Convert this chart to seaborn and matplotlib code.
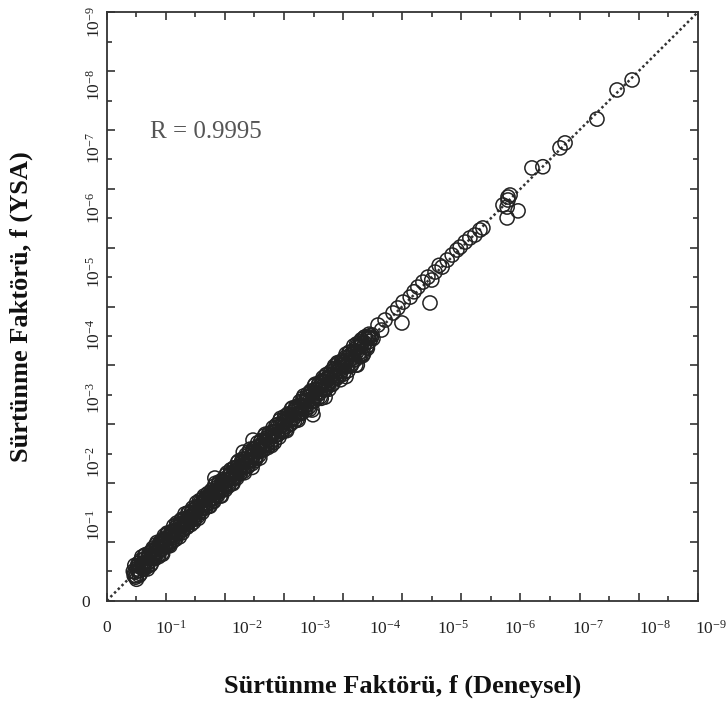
import numpy as np
import pandas as pd
import matplotlib
matplotlib.use("Agg")
import matplotlib.pyplot as plt
import seaborn as sns

# Positions are in axis units (0-20 along each axis, one unit per tick mark)
dense_x = [
    0.90, 0.93, 0.95, 0.99, 1.02, 1.05, 1.08, 1.12, 1.15, 1.17, 1.21, 1.24, 1.27, 1.30, 1.34, 1.37,
    1.40, 1.43, 1.46, 1.50, 1.53, 1.56, 1.59, 1.63, 1.66, 1.69, 1.72, 1.75, 1.79, 1.82, 1.85, 1.88,
    1.92, 1.95, 1.98, 2.01, 2.05, 2.08, 2.11, 2.14, 2.18, 2.21, 2.24, 2.28, 2.31, 2.34, 2.37, 2.41,
    2.44, 2.47, 2.51, 2.54, 2.57, 2.61, 2.64, 2.67, 2.70, 2.74, 2.77, 2.81, 2.84, 2.87, 2.90, 2.94,
    2.97, 3.01, 3.04, 3.07, 3.11, 3.14, 3.17, 3.21, 3.24, 3.28, 3.31, 3.34, 3.38, 3.41, 3.45, 3.48,
    3.51, 3.55, 3.58, 3.62, 3.65, 3.68, 3.72, 3.75, 3.79, 3.82, 3.86, 3.89, 3.92, 3.96, 3.99, 4.03,
    4.06, 4.10, 4.13, 4.17, 4.20, 4.24, 4.27, 4.31, 4.34, 4.38, 4.41, 4.45, 4.48, 4.52, 4.55, 4.59,
    4.62, 4.66, 4.69, 4.73, 4.77, 4.80, 4.84, 4.87, 4.91, 4.94, 4.98, 5.02, 5.05, 5.09, 5.12, 5.16,
    5.20, 5.23, 5.27, 5.31, 5.34, 5.38, 5.42, 5.45, 5.49, 5.53, 5.56, 5.60, 5.64, 5.67, 5.71, 5.75,
    5.78, 5.82, 5.86, 5.90, 5.93, 5.97, 6.01, 6.05, 6.08, 6.12, 6.16, 6.20, 6.23, 6.27, 6.31, 6.35,
    6.38, 6.42, 6.46, 6.50, 6.54, 6.57, 6.61, 6.65, 6.69, 6.73, 6.77, 6.80, 6.84, 6.88, 6.92, 6.96,
    7.00, 7.04, 7.07, 7.11, 7.15, 7.19, 7.23, 7.27, 7.31, 7.35, 7.39, 7.43, 7.46, 7.50, 7.54, 7.58,
    7.62, 7.66, 7.70, 7.74, 7.78, 7.82, 7.86, 7.90, 7.94, 7.98, 8.02, 8.06, 8.10, 8.14, 8.18, 8.22,
    8.26, 8.30, 8.34, 8.38, 8.42, 8.46, 8.50, 8.54, 8.58, 8.62, 8.66, 8.70, 8.74, 8.78, 8.82, 8.86,
    8.89, 8.92, 8.95, 8.98, 9.01,
]
dense_y = [
    1.00, 0.85, 0.97, 0.85, 1.08, 1.02, 1.20, 1.02, 1.15, 1.25, 1.09, 1.28, 1.21, 1.43, 1.33, 1.28,
    1.45, 1.32, 1.55, 1.46, 1.66, 1.49, 1.60, 1.50, 1.73, 1.67, 1.83, 1.66, 1.82, 1.77, 1.95, 1.76,
    1.94, 2.07, 1.88, 2.07, 2.01, 2.17, 1.97, 2.17, 2.11, 2.32, 2.23, 2.16, 2.39, 2.29, 2.51, 2.33,
    2.51, 2.44, 2.62, 2.41, 2.61, 2.55, 2.77, 2.58, 2.71, 2.83, 2.66, 2.86, 2.82, 2.99, 2.75, 2.97,
    2.90, 3.11, 3.03, 3.21, 2.99, 3.19, 3.12, 3.29, 3.14, 3.30, 3.43, 3.26, 3.44, 3.28, 3.54, 3.45,
    3.62, 3.46, 3.62, 3.48, 3.72, 3.66, 3.85, 3.69, 3.80, 3.71, 3.95, 3.85, 4.07, 3.86, 4.02, 3.96,
    4.12, 3.98, 4.23, 4.14, 4.32, 4.16, 4.29, 4.16, 4.42, 4.33, 4.54, 4.44, 4.38, 4.59, 4.49, 4.70,
    4.53, 4.70, 4.56, 4.82, 4.75, 4.94, 4.77, 4.90, 4.80, 5.04, 4.94, 5.08, 4.91, 5.21, 5.11, 5.08,
    5.28, 5.13, 5.28, 5.44, 5.28, 5.43, 5.30, 5.55, 5.46, 5.60, 5.41, 5.62, 5.75, 5.59, 5.75, 5.64,
    5.91, 5.78, 5.93, 5.77, 5.95, 6.07, 5.92, 6.10, 5.92, 6.21, 6.14, 6.32, 6.16, 6.30, 6.19, 6.43,
    6.33, 6.53, 6.36, 6.54, 6.40, 6.65, 6.60, 6.78, 6.61, 6.79, 6.65, 6.82, 6.94, 6.82, 7.06, 6.78,
    7.07, 6.95, 7.19, 7.07, 7.18, 7.04, 7.32, 7.20, 7.45, 7.33, 7.44, 7.23, 7.57, 7.40, 7.55, 7.66,
    7.50, 7.70, 7.64, 7.87, 7.56, 7.88, 7.83, 8.00, 7.80, 8.00, 8.14, 7.97, 8.15, 7.97, 8.27, 8.18,
    8.37, 8.23, 8.37, 8.20, 8.50, 8.45, 8.63, 8.43, 8.63, 8.38, 8.76, 8.65, 8.76, 8.90, 8.67, 8.92,
    8.81, 9.01, 8.93, 9.03, 8.91,
]

# Edges of the dense band, further from the 1:1 line
edge_x = [
    0.95, 1.01, 1.07, 1.14, 1.19, 1.26, 1.32, 1.38, 1.44, 1.51,
    1.57, 1.63, 1.70, 1.76, 1.82, 1.89, 1.95, 2.02, 2.08, 2.14,
    2.21, 2.27, 2.33, 2.40, 2.46, 2.53, 2.59, 2.65, 2.72, 2.78,
    2.85, 2.91, 2.97, 3.04, 3.10, 3.17, 3.23, 3.30, 3.36, 3.42,
    3.49, 3.55, 3.62, 3.68, 3.75, 3.81, 3.88, 3.94, 4.01, 4.07,
    4.14, 4.20, 4.27, 4.33, 4.40, 4.46, 4.53, 4.59, 4.66, 4.72,
    4.79, 4.85, 4.92, 4.98, 5.05, 5.11, 5.18, 5.24, 5.31, 5.37,
    5.44, 5.50, 5.57, 5.63, 5.70, 5.76, 5.83, 5.89, 5.96, 6.02,
    6.09, 6.15, 6.22, 6.28, 6.35, 6.41, 6.48, 6.54, 6.61, 6.67,
    6.74, 6.80, 6.87, 6.93, 7.00, 7.06, 7.13, 7.19, 7.26, 7.32,
    7.39, 7.45, 7.52, 7.58, 7.65, 7.71, 7.78, 7.84, 7.91, 7.97,
    8.04, 8.10, 8.17, 8.23, 8.30, 8.36, 8.43, 8.49, 8.56, 8.62,
    8.69, 8.75, 8.82, 8.88,
]
edge_y = [
    1.20, 0.73, 1.27, 0.92, 1.49, 1.07, 1.56, 1.08, 1.62, 1.26,
    1.79, 1.43, 1.98, 1.50, 2.01, 1.58, 2.21, 1.84, 2.29, 1.87,
    2.00, 2.54, 2.09, 2.59, 2.17, 2.76, 2.41, 2.95, 2.50, 2.98,
    2.59, 3.15, 2.77, 3.33, 2.80, 3.35, 3.00, 3.56, 3.17, 3.64,
    3.21, 3.75, 3.37, 3.99, 3.57, 4.04, 3.56, 4.13, 3.77, 4.34,
    3.94, 4.45, 3.98, 4.51, 4.17, 4.74, 4.34, 4.81, 4.35, 4.96,
    4.57, 5.15, 4.66, 5.17, 4.84, 5.37, 4.85, 5.45, 5.13, 5.66,
    5.20, 5.69, 5.27, 5.88, 5.50, 5.98, 5.56, 6.20, 5.77, 6.26,
    5.78, 6.35, 6.00, 6.55, 6.10, 6.59, 6.14, 6.77, 6.41, 6.96,
    6.47, 7.02, 6.51, 7.12, 6.77, 7.36, 6.88, 7.40, 6.88, 7.58,
    7.17, 7.69, 7.19, 7.78, 7.37, 7.98, 7.57, 8.07, 7.51, 8.16,
    7.78, 8.38, 7.82, 8.45, 8.06, 8.66, 8.01, 8.69, 8.29, 8.87,
    8.39, 8.97, 8.58, 9.06,
]

# Intermediate cases between the core and the edges of the band
mid_x = [
    0.98, 1.04, 1.10, 1.17, 1.23, 1.29, 1.35, 1.41, 1.48, 1.54,
    1.60, 1.67, 1.73, 1.79, 1.86, 1.92, 1.99, 2.05, 2.11, 2.18,
    2.24, 2.30, 2.37, 2.43, 2.50, 2.56, 2.62, 2.69, 2.75, 2.82,
    2.88, 2.94, 3.01, 3.07, 3.14, 3.20, 3.27, 3.33, 3.39, 3.46,
    3.52, 3.59, 3.65, 3.72, 3.78, 3.85, 3.91, 3.98, 4.04, 4.11,
    4.17, 4.24, 4.30, 4.37, 4.43, 4.50, 4.56, 4.63, 4.69, 4.76,
    4.82, 4.89, 4.95, 5.02, 5.08, 5.15, 5.21, 5.28, 5.34, 5.41,
    5.47, 5.54, 5.60, 5.67, 5.73, 5.80, 5.86, 5.93, 5.99, 6.06,
    6.12, 6.19, 6.25, 6.32, 6.38, 6.45, 6.51, 6.58, 6.64, 6.71,
    6.77, 6.84, 6.90, 6.97, 7.03, 7.10, 7.16, 7.23, 7.29, 7.36,
    7.42, 7.49, 7.55, 7.62, 7.68, 7.75, 7.81, 7.88, 7.94, 8.01,
    8.07, 8.14, 8.20, 8.27, 8.33, 8.40, 8.46, 8.53, 8.59, 8.66,
    8.72, 8.79, 8.85,
]
mid_y = [
    0.80, 1.19, 0.86, 1.38, 1.10, 1.55, 1.15, 1.53, 1.21, 1.71,
    1.45, 1.90, 1.54, 1.93, 1.60, 2.10, 1.87, 2.30, 1.90, 2.34,
    2.37, 2.08, 2.64, 2.27, 2.70, 2.31, 2.77, 2.50, 2.99, 2.69,
    3.06, 2.67, 3.15, 2.86, 3.40, 3.06, 3.49, 3.15, 3.52, 3.22,
    3.68, 3.39, 3.90, 3.59, 3.97, 3.57, 4.03, 3.81, 4.27, 3.89,
    4.31, 3.99, 4.51, 4.22, 4.70, 4.31, 4.72, 4.40, 4.81, 4.59,
    5.06, 4.75, 5.13, 4.76, 5.21, 4.94, 5.41, 5.12, 5.60, 5.29,
    5.64, 5.31, 5.73, 5.38, 5.95, 5.65, 6.13, 5.73, 6.14, 5.81,
    6.33, 6.02, 6.51, 6.20, 6.54, 6.18, 6.64, 6.36, 6.88, 6.52,
    6.91, 6.58, 7.12, 6.79, 7.31, 6.97, 7.33, 6.93, 7.48, 7.21,
    7.67, 7.30, 7.70, 7.35, 7.89, 7.61, 8.09, 7.65, 8.10, 7.70,
    8.26, 7.98, 8.44, 7.99, 8.47, 8.18, 8.73, 8.35, 8.80, 8.33,
    8.95, 8.62, 8.97,
]

# Scattered cases off the main band
spread_x = [3.66, 4.92, 4.62, 4.95, 6.95, 6.98, 7.39, 8.10, 8.48]
spread_y = [4.17, 4.53, 5.05, 5.46, 6.48, 6.32, 6.92, 7.62, 8.01]

# Upper, sparser part of the range
upper_x = [9.18, 9.30, 9.42, 9.69, 9.85, 9.99, 10.03, 10.27, 10.40, 10.53, 10.70, 10.87,
           10.94, 11.00, 11.11, 11.25, 11.35, 11.52, 11.69, 11.85, 11.96, 12.13, 12.29,
           12.46, 12.63, 12.73,
           13.41, 13.55, 13.55, 13.58, 13.58, 13.65, 13.92,
           14.39, 14.76, 15.34, 15.51, 16.59, 17.27, 17.78]
upper_y = [9.37, 9.20, 9.54, 9.78, 9.95, 9.44, 10.15, 10.32, 10.50, 10.66, 10.83, 11.00,
           10.12, 10.90, 11.17, 11.40, 11.34, 11.58, 11.75, 11.92, 12.02, 12.19, 12.33,
           12.43, 12.60, 12.67,
           13.45, 13.01, 13.38, 13.62, 13.72, 13.79, 13.25,
           14.71, 14.75, 15.39, 15.56, 16.37, 17.36, 17.70]

x_tick_text = ["0", "10$^{-1}$", "10$^{-2}$", "10$^{-3}$", "10$^{-4}$",
               "10$^{-5}$", "10$^{-6}$", "10$^{-7}$", "10$^{-8}$", "10$^{-9}$"]
y_tick_text = ["0   "] + x_tick_text[1:]
x_tick_pos = [0.0, 2.18, 4.75, 7.05, 9.42, 11.72, 14.0, 16.29, 18.56, 19.9]
y_tick_pos = [0.0, 2.57, 4.71, 6.89, 9.03, 11.17, 13.35, 15.39, 17.53, 19.67]

r_text = "R = 0.9995"

sns.set_theme(style="white")
plt.rcParams["font.family"] = ["Liberation Serif", "DejaVu Serif"]
plt.rcParams["mathtext.fontset"] = "custom"
plt.rcParams["mathtext.rm"] = "Liberation Serif"
plt.rcParams["mathtext.it"] = "Liberation Serif:italic"
plt.rcParams["mathtext.bf"] = "Liberation Serif:bold"
plt.rcParams["mathtext.default"] = "regular"

df = pd.DataFrame({
    "deneysel": dense_x + edge_x + mid_x + spread_x + upper_x,
    "ysa": dense_y + edge_y + mid_y + spread_y + upper_y,
})

ink = "#222222"
fig = plt.figure(figsize=(7.28, 7.03), dpi=100)
ax = fig.add_axes([0.1466, 0.1455, 0.8118, 0.837])

ax.plot([0, 20], [0, 20], linestyle=(0, (1, 1.1)), color="#333333", lw=1.8, zorder=1)
sns.scatterplot(data=df, x="deneysel", y="ysa", ax=ax, marker="o", s=104,
                facecolor="none", edgecolor=ink, linewidth=1.1, zorder=2, legend=False)

ax.set_xlim(0, 20)
ax.set_ylim(0, 20)
ax.set_xticks(np.arange(0, 21, 2))
ax.set_yticks(np.arange(0, 21, 2))
ax.set_xticks(np.arange(1, 20, 2), minor=True)
ax.set_yticks(np.arange(1, 20, 2), minor=True)
ax.tick_params(which="both", direction="in", top=True, right=True, bottom=True, left=True,
               labelbottom=False, labelleft=False, color="#333333", width=1.2)
ax.tick_params(which="major", length=6)
ax.tick_params(which="minor", length=3.5)
for s in ax.spines.values():
    s.set_color("#333333")
    s.set_linewidth(1.3)

# Tick text sits on its own axes so it can be placed independently of the tick marks
sx = ax.secondary_xaxis("bottom")
sx.set_xticks(x_tick_pos, labels=x_tick_text)
sx.tick_params(length=0, pad=14, labelsize=12.5, labelcolor="#222222")
sx.spines["bottom"].set_visible(False)
for lab in sx.get_xticklabels()[-1:]:
    lab.set_ha("left")

sy = ax.secondary_yaxis("left")
sy.set_yticks(y_tick_pos, labels=y_tick_text)
sy.tick_params(length=0, pad=2, labelsize=12.5, labelcolor="#222222")
sy.spines["left"].set_visible(False)
for i, lab in enumerate(sy.get_yticklabels()):
    if i > 0:
        lab.set_rotation(90)
        lab.set_va("center")

ax.set_xlabel("Sürtünme Faktörü, f (Deneysel)", fontsize=19, fontweight="bold", color="#111111")
ax.set_ylabel("Sürtünme Faktörü, f (YSA)", fontsize=19, fontweight="bold", color="#111111")
ax.xaxis.set_label_coords(0.5, -0.126)
ax.yaxis.set_label_coords(-0.125, 0.5)

ax.text(1.47, 15.93, r_text, fontsize=18, color="#555555", ha="left", va="center")

fig.savefig("out.png", dpi=100, facecolor="white")
